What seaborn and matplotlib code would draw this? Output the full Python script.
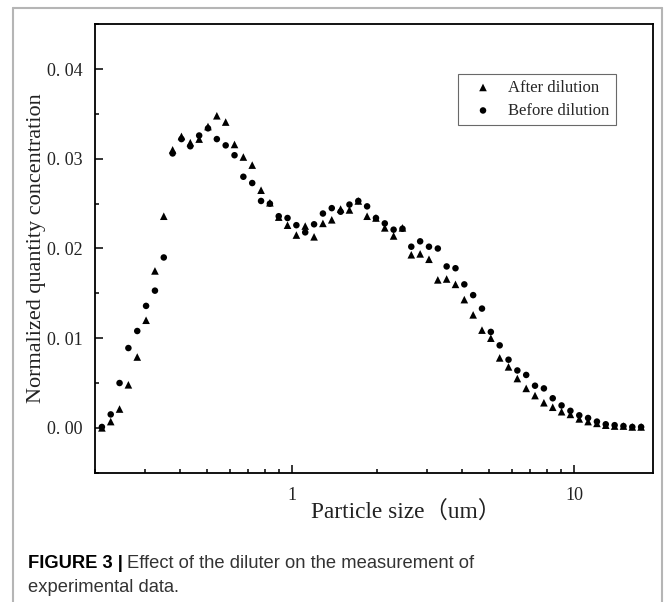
import numpy as np
import pandas as pd
import matplotlib
matplotlib.use('Agg')
import matplotlib.pyplot as plt
from matplotlib.lines import Line2D
from matplotlib.ticker import LogLocator, NullFormatter, FixedLocator, MultipleLocator
import seaborn as sns

# particle size channels (um)
size_um = [0.2116, 0.2274, 0.2444, 0.2627, 0.2824, 0.3035, 0.3263, 0.3507, 0.3770, 0.4052,
           0.4355, 0.4682, 0.5032, 0.5409, 0.5814, 0.6249, 0.6717, 0.7221, 0.7761, 0.8342,
           0.8966, 0.9634, 1.0356, 1.1131, 1.1966, 1.2862, 1.3825, 1.4860, 1.5973, 1.7169,
           1.8450, 1.9833, 2.1317, 2.2909, 2.4627, 2.6467, 2.8452, 3.0581, 3.2869, 3.5326,
           3.7970, 4.0810, 4.3863, 4.7141, 5.0676, 5.4474, 5.8547, 6.2923, 6.7640, 7.2694,
           7.8163, 8.4004, 9.0291, 9.7051, 10.433, 11.212, 12.052, 12.953, 13.925, 14.965,
           16.087, 17.289]

after_dilution = [0.0000, 0.0007, 0.0021, 0.0048, 0.0079, 0.0120, 0.0175, 0.0236, 0.0310, 0.0325,
                  0.0318, 0.0322, 0.0336, 0.0348, 0.0341, 0.0316, 0.0302, 0.0293, 0.0265, 0.0251,
                  0.0235, 0.0226, 0.0215, 0.0225, 0.0213, 0.0228, 0.0232, 0.0244, 0.0243, 0.0253,
                  0.0236, 0.0234, 0.0223, 0.0214, 0.0223, 0.0193, 0.0194, 0.0188, 0.0165, 0.0166,
                  0.0160, 0.0143, 0.0126, 0.0109, 0.0100, 0.0078, 0.0068, 0.0055, 0.0044, 0.0036,
                  0.0028, 0.0023, 0.0018, 0.0015, 0.0010, 0.0007, 0.0005, 0.0003, 0.0002, 0.0002,
                  0.0001, 0.0001]

before_dilution = [0.0001, 0.0015, 0.0050, 0.0089, 0.0108, 0.0136, 0.0153, 0.0190, 0.0306, 0.0322,
                   0.0314, 0.0326, 0.0334, 0.0322, 0.0315, 0.0304, 0.0280, 0.0273, 0.0253, 0.0250,
                   0.0236, 0.0234, 0.0226, 0.0218, 0.0227, 0.0239, 0.0245, 0.0241, 0.0249, 0.0253,
                   0.0247, 0.0234, 0.0228, 0.0221, 0.0222, 0.0202, 0.0208, 0.0202, 0.0200, 0.0180,
                   0.0178, 0.0160, 0.0148, 0.0133, 0.0107, 0.0092, 0.0076, 0.0064, 0.0059, 0.0047,
                   0.0044, 0.0033, 0.0025, 0.0019, 0.0014, 0.0011, 0.0007, 0.0004, 0.0003, 0.0002,
                   0.0001, 0.0001]

ytick_vals = [0.00, 0.01, 0.02, 0.03, 0.04]
ytick_labels = ['0. 00', '0. 01', '0. 02', '0. 03', '0. 04']
xtick_vals = [1, 10]
xtick_labels = ['1', '10']

df_after = pd.DataFrame({'size': size_um, 'conc': after_dilution})
df_before = pd.DataFrame({'size': size_um, 'conc': before_dilution})

sns.set_style('ticks')
plt.rcParams['font.family'] = ['Liberation Serif', 'Noto Sans CJK SC', 'DejaVu Sans']

W, H = 665, 602
fig = plt.figure(figsize=(W / 100, H / 100), dpi=100)
ax = fig.add_axes([95 / W, 1 - 472.7 / H, (653 - 95) / W, (472.7 - 24.3) / H])

sns.scatterplot(data=df_before, x='size', y='conc', marker='o', s=22, color='black',
                edgecolor='none', label='Before dilution', ax=ax, zorder=3)
sns.scatterplot(data=df_after, x='size', y='conc', marker='^', s=30, color='black',
                edgecolor='none', label='After dilution', ax=ax, zorder=4)

ax.set_xscale('log')
ax.set_xlim(0.2, 19.05)
ax.set_ylim(-0.005, 0.045)

ax.xaxis.set_major_locator(FixedLocator(xtick_vals))
ax.set_xticklabels(xtick_labels)
ax.xaxis.set_minor_locator(LogLocator(base=10, subs=np.arange(2, 10)))
ax.xaxis.set_minor_formatter(NullFormatter())
ax.set_yticks(ytick_vals)
ax.set_yticklabels(ytick_labels)
ax.yaxis.set_minor_locator(MultipleLocator(0.005))

ax.tick_params(which='both', direction='in', top=False, right=False, width=1.1, colors='black',
               labelsize=13)
ax.tick_params(which='major', length=6)
ax.tick_params(which='minor', length=3)
ax.tick_params(axis='y', pad=9)
ax.tick_params(axis='x', pad=10)
for lab in ax.get_xticklabels() + ax.get_yticklabels():
    lab.set_color('#222222')

for sp in ax.spines.values():
    sp.set_linewidth(1.3)
    sp.set_color('black')
    sp.set_visible(True)

ax.set_xlabel('Particle size（um）', fontsize=16.8, color='#222222')
ax.set_ylabel('Normalized quantity concentration', fontsize=16, color='#222222')
ax.xaxis.set_label_coords((406 - 95) / 558, -0.064)
ax.yaxis.set_label_coords(-0.088, 0.5)

handles, labels = ax.get_legend_handles_labels()
order = [labels.index('After dilution'), labels.index('Before dilution')]
leg = ax.legend([handles[i] for i in order], [labels[i] for i in order],
                loc='upper left', bbox_to_anchor=((458 - 95) / 558, 1 - (74 - 24.3) / 448.4),
                frameon=True, fancybox=False, fontsize=12, handletextpad=0.38,
                borderpad=0.35, labelspacing=0.42, handlelength=2.3, borderaxespad=0)
leg.get_frame().set_edgecolor('#444444')
leg.get_frame().set_linewidth(0.8)

# grey outer frame of the figure panel
frame_kw = dict(color='#b5b5b5', lw=1.5, transform=fig.transFigure)
x0, x1, yt = 12.7 / W, 662 / W, 1 - 7.7 / H
fig.add_artist(Line2D([x0, x0], [0, yt], **frame_kw))
fig.add_artist(Line2D([x0, x1], [yt, yt], **frame_kw))
fig.add_artist(Line2D([x1, x1], [yt, 0], **frame_kw))

# caption
cap_font = ['Liberation Sans', 'DejaVu Sans']
t1 = fig.text(28 / W, 1 - 564 / H, 'FIGURE 3 |', fontsize=13.2, fontweight='bold',
              family=cap_font, va='center', ha='left', color='black')
fig.canvas.draw()
bb = t1.get_window_extent(fig.canvas.get_renderer())
fig.text(bb.x1 / W + 4 / W, 1 - 564 / H, 'Effect of the diluter on the measurement of',
         fontsize=13.2, family=cap_font, va='center', ha='left', color='#333333')
fig.text(28 / W, 1 - 587 / H, 'experimental data.', fontsize=13.2, family=cap_font,
         va='center', ha='left', color='#333333')

plt.savefig('out.png', dpi=100)
